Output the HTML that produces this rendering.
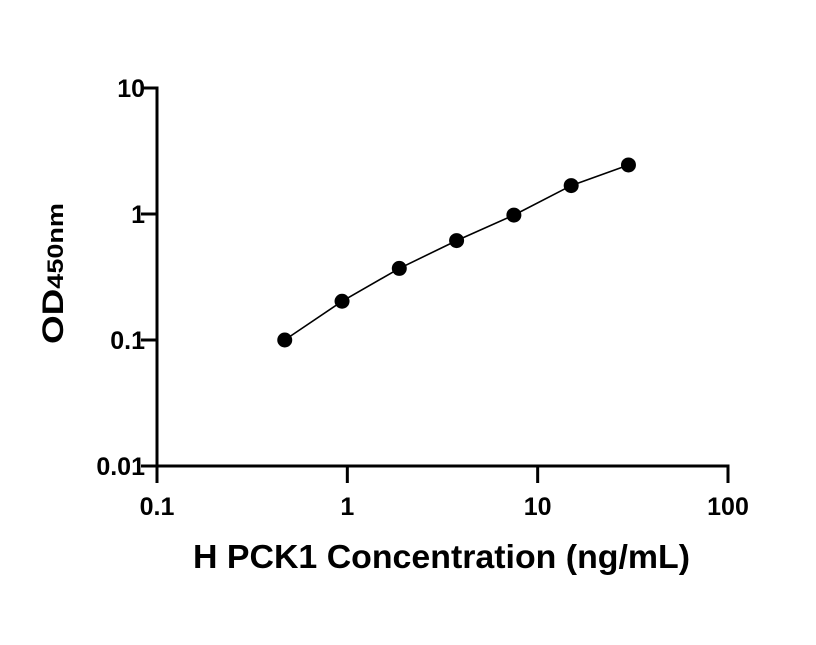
<!DOCTYPE html>
<html><head><meta charset="utf-8"><style>
body{margin:0;background:#fff;}
svg text{font-family:"Liberation Sans",sans-serif;font-weight:bold;fill:#000;}
</style></head><body>
<svg id="chart" width="816" height="640" viewBox="0 0 816 640" xmlns="http://www.w3.org/2000/svg">
<g id="axes"></g>
<g id="marks"></g>
<text x="193" y="568" font-size="33" textLength="497" lengthAdjust="spacingAndGlyphs">H PCK1 Concentration (ng/mL)</text>
<text transform="translate(63,344) rotate(-90)" font-size="30" textLength="141" lengthAdjust="spacingAndGlyphs">OD<tspan font-size="22">450nm</tspan></text>
</svg>
<script>
const conc = [0.469, 0.938, 1.875, 3.75, 7.5, 15, 30];
const od = [0.100, 0.203, 0.370, 0.615, 0.980, 1.68, 2.45];
const xTicks = [0.1, 1, 10, 100];
const xTickLabels = ["0.1", "1", "10", "100"];
const yTicks = [0.01, 0.1, 1, 10];
const yTickLabels = ["0.01", "0.1", "1", "10"];
const NS = "http://www.w3.org/2000/svg";
const X0 = 157, X1 = 728, Y0 = 466, Y1 = 88;
function sx(v){return X0 + (Math.log10(v) - Math.log10(0.1)) / 3 * (X1 - X0);}
function sy(v){return Y0 - (Math.log10(v) - Math.log10(0.01)) / 3 * (Y0 - Y1);}
function mk(tag, attrs, parent){const e=document.createElementNS(NS,tag);for(const k in attrs)e.setAttribute(k,attrs[k]);parent.appendChild(e);return e;}
const axes = document.getElementById('axes');
const marks = document.getElementById('marks');
let l = mk('line',{x1:X0,y1:Y1-1.5,x2:X0,y2:Y0+1.5,stroke:'#000','stroke-width':3},axes);


l = mk('line',{x1:X0-1.5,y1:Y0,x2:X1+1.5,y2:Y0,stroke:'#000','stroke-width':3},axes);


xTicks.forEach((t,i)=>{
  const x = sx(t);
  const tk = mk('line',{x1:x,y1:Y0,x2:x,y2:Y0+17,stroke:'#000','stroke-width':3},axes);
  
  
  const tx = mk('text',{x:x,y:515,'text-anchor':'middle','font-size':25},axes);
  tx.textContent = xTickLabels[i];
  
  
});
yTicks.forEach((t,i)=>{
  const y = sy(t);
  const tk = mk('line',{x1:X0-16,y1:y,x2:X0,y2:y,stroke:'#000','stroke-width':3},axes);
  
  
  const tx = mk('text',{x:X0-12,y:y+9,'text-anchor':'end','font-size':25},axes);
  tx.textContent = yTickLabels[i];
  
  
});
let d = '';
conc.forEach((c,i)=>{ d += (i?'L':'M') + sx(c).toFixed(1) + ' ' + sy(od[i]).toFixed(1); });
const path = mk('path',{d:d,fill:'none',stroke:'#000','stroke-width':1.6},marks);


conc.forEach((c,i)=>{
  const p = mk('circle',{cx:sx(c),cy:sy(od[i]),r:7.5,fill:'#000'},marks);
  
  
});
</script>
</body></html>
